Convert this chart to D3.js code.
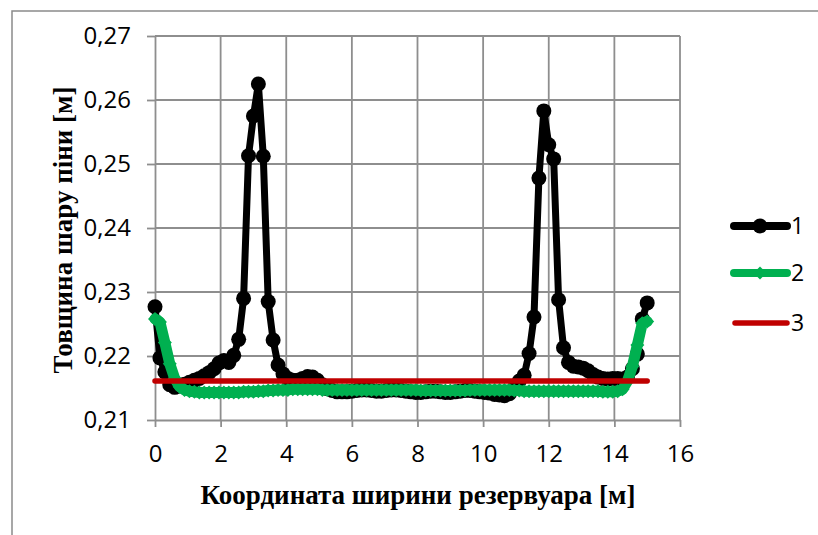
<!DOCTYPE html>
<html>
<head>
<meta charset="utf-8">
<script src="https://cdn.jsdelivr.net/npm/d3@7"></script>
<style>
  html, body { margin: 0; padding: 0; background: #fff; }
  svg { display: block; }
</style>
</head>
<body>
<svg id="chart" width="818" height="535"></svg>
<script>
// Positions across the reservoir width, m
const xPos = [
  0, 0.15, 0.3, 0.45, 0.6, 0.75, 0.9, 1.05, 1.2, 1.35,
  1.5, 1.65, 1.8, 1.95, 2.1, 2.25, 2.4, 2.55, 2.7, 2.85,
  3.0, 3.15, 3.3, 3.45, 3.6, 3.75, 3.9, 4.05, 4.2, 4.35,
  4.5, 4.65, 4.8, 4.95, 5.1, 5.25, 5.4, 5.55, 5.7, 5.85,
  6.0, 6.15, 6.3, 6.45, 6.6, 6.75, 6.9, 7.05, 7.2, 7.35,
  7.5, 7.65, 7.8, 7.95, 8.1, 8.25, 8.4, 8.55, 8.7, 8.85,
  9.0, 9.15, 9.3, 9.45, 9.6, 9.75, 9.9, 10.05, 10.2, 10.35,
  10.5, 10.65, 10.8, 10.95, 11.1, 11.25, 11.4, 11.55, 11.7, 11.85,
  12.0, 12.15, 12.3, 12.45, 12.6, 12.75, 12.9, 13.05, 13.2, 13.35,
  13.5, 13.65, 13.8, 13.95, 14.1, 14.25, 14.4, 14.55, 14.7, 14.85,
  15.0
];

// Series 1: foam layer thickness, m
const series1 = [
  0.2277, 0.2197, 0.2175, 0.2155, 0.2151, 0.2153, 0.2156, 0.2159, 0.2162, 0.2165,
  0.2169, 0.2174, 0.2180, 0.2189, 0.2193, 0.2190, 0.2201, 0.2226, 0.2290, 0.2513,
  0.2575, 0.2625, 0.2512, 0.2285, 0.2225, 0.2186, 0.2172, 0.2165, 0.2162, 0.2162,
  0.2165, 0.2168, 0.2167, 0.2162, 0.2155, 0.2149, 0.2146, 0.2144, 0.2144, 0.2144,
  0.2145, 0.2146, 0.2147, 0.2147, 0.2146, 0.2145, 0.2145, 0.2146, 0.2147, 0.2147,
  0.2146, 0.2145, 0.2144, 0.2143, 0.2143, 0.2144, 0.2145, 0.2145, 0.2144, 0.2143,
  0.2143, 0.2144, 0.2145, 0.2146, 0.2146, 0.2145, 0.2144, 0.2143, 0.2142, 0.2140,
  0.2139, 0.2138, 0.2141, 0.2150, 0.2161, 0.2170, 0.2204, 0.2261, 0.2478, 0.2583,
  0.2530, 0.2508, 0.2288, 0.2213, 0.2190, 0.2184, 0.2183, 0.2181, 0.2177, 0.2171,
  0.2167, 0.2165, 0.2164, 0.2165, 0.2165, 0.2164, 0.2167, 0.2180, 0.2203, 0.2258,
  0.2283
];

// Series 2
const series2 = [
  0.2258, 0.2253, 0.2221, 0.2188, 0.2165, 0.2152, 0.2147, 0.2145, 0.2144, 0.2143,
  0.2143, 0.2143, 0.2143, 0.2143, 0.2143, 0.2143, 0.2143, 0.2143, 0.2144, 0.2144,
  0.2144, 0.2145, 0.2145, 0.2146, 0.2146, 0.2147, 0.2147, 0.2147, 0.2148, 0.2148,
  0.2148, 0.2148, 0.2148, 0.2148, 0.2147, 0.2147, 0.2147, 0.2147, 0.2147, 0.2147,
  0.2147, 0.2147, 0.2147, 0.2147, 0.2147, 0.2147, 0.2147, 0.2147, 0.2147, 0.2147,
  0.2147, 0.2147, 0.2147, 0.2147, 0.2146, 0.2146, 0.2146, 0.2146, 0.2146, 0.2146,
  0.2146, 0.2146, 0.2146, 0.2146, 0.2147, 0.2147, 0.2147, 0.2147, 0.2147, 0.2147,
  0.2147, 0.2147, 0.2147, 0.2146, 0.2146, 0.2145, 0.2145, 0.2145, 0.2145, 0.2145,
  0.2145, 0.2145, 0.2145, 0.2145, 0.2145, 0.2145, 0.2145, 0.2145, 0.2145, 0.2145,
  0.2145, 0.2144, 0.2144, 0.2144, 0.2145, 0.2148, 0.2161, 0.2184, 0.2217, 0.2251,
  0.2254
];

// Series 3: constant level
const xLevel = [0, 15];
const series3 = [0.2161, 0.2161];

const xTicks = [0, 2, 4, 6, 8, 10, 12, 14, 16];
const yTicks = [0.21, 0.22, 0.23, 0.24, 0.25, 0.26, 0.27];
const legendLabels = ["1", "2", "3"];

const xTitle = "Координата ширини резервуара [м]";
const yTitle = "Товщина шару піни [м]";

const svg = d3.select("#chart");
const fmt = d => d3.format(".2f")(d).replace(".", ",");

const x = d3.scaleLinear().domain([0, 16]).range([155, 680]);
const y = d3.scaleLinear().domain([0.21, 0.27]).range([420, 36]);

const gridColor = "#8e8e8e";
const tickFont = "'Open Sans', 'Noto Sans', sans-serif";
const titleFont = "'Liberation Serif', 'DejaVu Serif', serif";

// chart frame
svg.append("rect")
  .attr("x", 12).attr("y", 11)
  .attr("width", 900).attr("height", 900)
  .attr("fill", "none").attr("stroke", "#8a8a8a").attr("stroke-width", 1.5);

// gridlines
const grid = svg.append("g");
grid.selectAll("line.gx").data(xTicks.slice(1)).join("line")
  .attr("x1", d => x(d)).attr("x2", d => x(d))
  .attr("y1", y(0.27)).attr("y2", y(0.21))
  .attr("stroke", gridColor).attr("stroke-width", 1.8);
grid.selectAll("line.gy").data(yTicks.slice(1)).join("line")
  .attr("x1", x(0)).attr("x2", x(16))
  .attr("y1", d => y(d)).attr("y2", d => y(d))
  .attr("stroke", gridColor).attr("stroke-width", 1.8);

// axes
const xAxis = d3.axisBottom(x).tickValues(xTicks).tickSize(7).tickSizeOuter(0).tickPadding(18).tickFormat(d3.format("d"));
const yAxis = d3.axisLeft(y).tickValues(yTicks).tickSize(8).tickSizeOuter(0).tickPadding(16).tickFormat(fmt);

const gx = svg.append("g").attr("transform", `translate(0,${y(0.21)})`).call(xAxis);
const gy = svg.append("g").attr("transform", `translate(${x(0)},0)`).call(yAxis);
[gx, gy].forEach(g => {
  g.selectAll(".domain").attr("stroke", gridColor).attr("stroke-width", 1.8);
  g.selectAll(".tick line").attr("stroke", gridColor).attr("stroke-width", 1.8);
  g.selectAll(".tick text").attr("fill", "#000")
    .style("font-family", tickFont).style("font-size", "24px");
});

// series drawing
const line = d3.line().x(d => x(d[0])).y(d => y(d[1]));
const pts1 = xPos.map((v, i) => [v, series1[i]]);
const pts2 = xPos.map((v, i) => [v, series2[i]]);
const pts3 = xLevel.map((v, i) => [v, series3[i]]);

const plot = svg.append("g");

plot.append("path").datum(pts1).attr("d", line)
  .attr("fill", "none").attr("stroke", "#000").attr("stroke-width", 7)
  .attr("stroke-linejoin", "round").attr("stroke-linecap", "round");
plot.append("g").selectAll("circle").data(pts1).join("circle")
  .attr("cx", d => x(d[0])).attr("cy", d => y(d[1])).attr("r", 7.5)
  .attr("fill", "#000");

const green = "#00b050";
const diamond = (cx, cy, s) => `M${cx},${cy - s}L${cx + s},${cy}L${cx},${cy + s}L${cx - s},${cy}Z`;
plot.append("path").datum(pts2).attr("d", line)
  .attr("fill", "none").attr("stroke", green).attr("stroke-width", 11)
  .attr("stroke-linejoin", "round").attr("stroke-linecap", "round");
plot.append("g").selectAll("path").data(pts2).join("path")
  .attr("d", d => diamond(x(d[0]), y(d[1]), 7))
  .attr("fill", green);

plot.append("path").datum(pts3).attr("d", line)
  .attr("fill", "none").attr("stroke", "#c00000").attr("stroke-width", 5.5)
  .attr("stroke-linecap", "round");

// axis titles
svg.append("text")
  .attr("x", 418).attr("y", 504)
  .attr("text-anchor", "middle")
  .style("font-family", titleFont).style("font-weight", "bold").style("font-size", "27px")
  .text(xTitle);
svg.append("text")
  .attr("transform", "translate(72,230) rotate(-90)")
  .attr("text-anchor", "middle")
  .style("font-family", titleFont).style("font-weight", "bold").style("font-size", "27px")
  .text(yTitle);

// legend
const legendY = [226, 273, 323];
const lg = svg.append("g");
legendLabels.forEach((lab, i) => {
  const ly = legendY[i];
  if (i === 0) {
    lg.append("line").attr("x1", 734).attr("x2", 787).attr("y1", ly).attr("y2", ly)
      .attr("stroke", "#000").attr("stroke-width", 8).attr("stroke-linecap", "round");
    lg.append("circle").attr("cx", 760).attr("cy", ly).attr("r", 7.5).attr("fill", "#000");
  } else if (i === 1) {
    lg.append("line").attr("x1", 734).attr("x2", 787).attr("y1", ly).attr("y2", ly)
      .attr("stroke", green).attr("stroke-width", 8).attr("stroke-linecap", "round");
    lg.append("path").attr("d", diamond(760, ly, 6.5)).attr("fill", green);
  } else {
    lg.append("line").attr("x1", 735).attr("x2", 787).attr("y1", ly).attr("y2", ly)
      .attr("stroke", "#c00000").attr("stroke-width", 5.5).attr("stroke-linecap", "round");
  }
  lg.append("text").attr("x", 791).attr("y", ly).attr("dy", "0.36em")
    .style("font-family", tickFont).style("font-size", "23px")
    .text(lab);
});
</script>
</body>
</html>
